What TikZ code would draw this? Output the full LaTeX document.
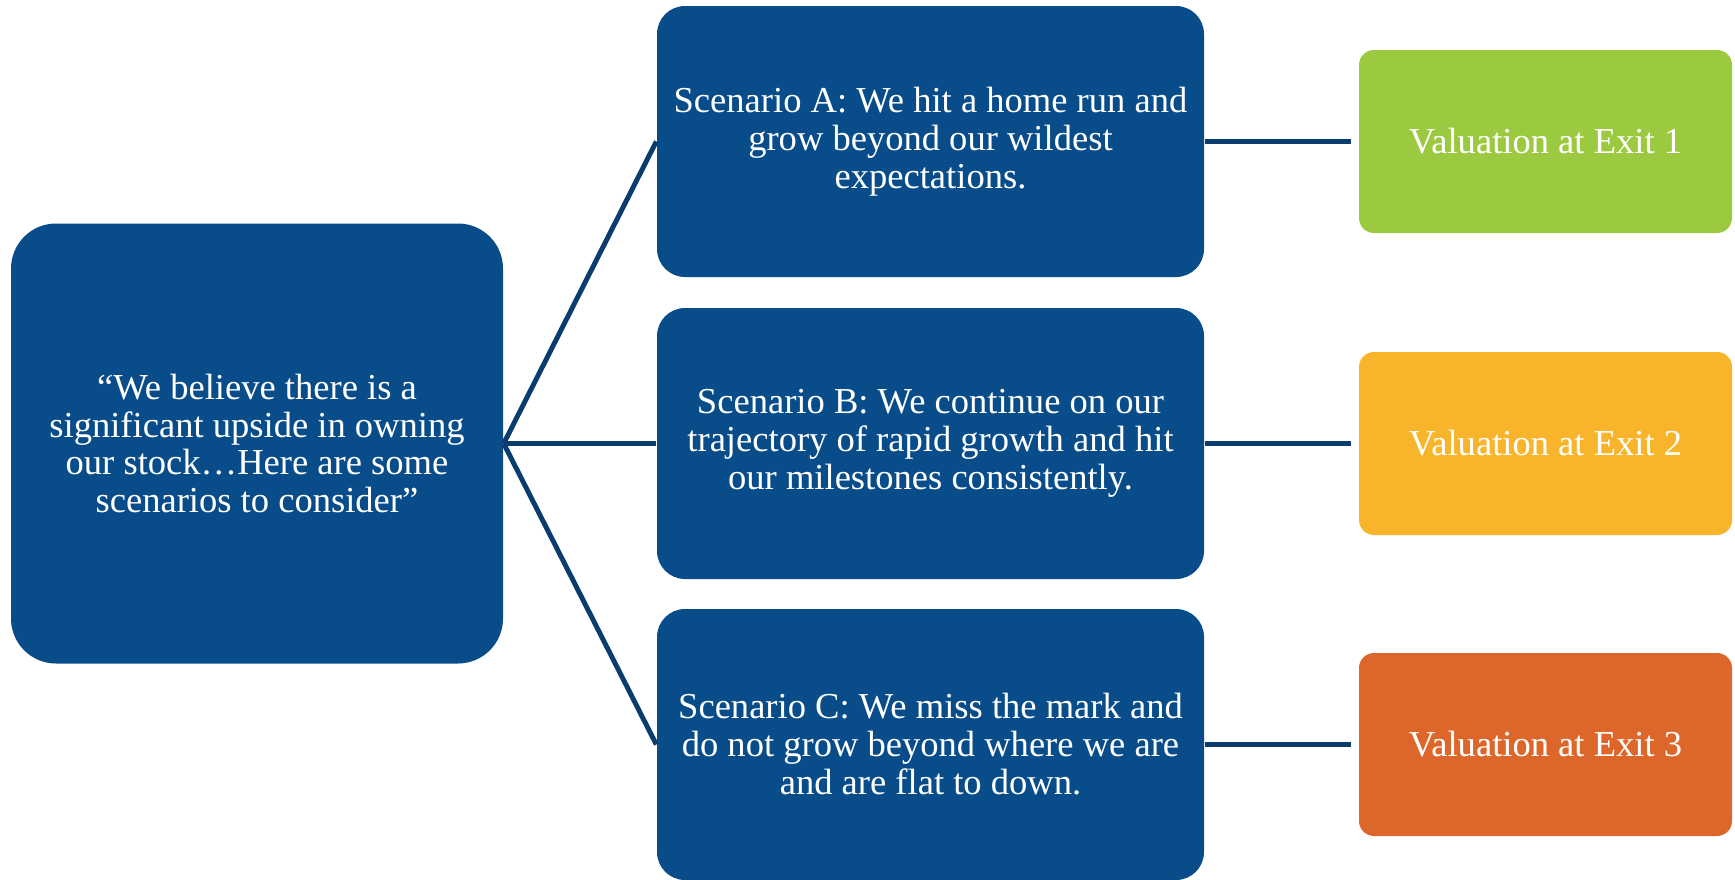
\documentclass[tikz,border=0pt]{standalone}
\usepackage{fontspec}
\setmainfont{Liberation Serif}
\usepackage{tikz}
\usetikzlibrary{positioning}
\definecolor{boxblue}{RGB}{9,76,138}
\definecolor{lineblue}{RGB}{10,61,110}
\definecolor{exitgreen}{RGB}{155,201,63}
\definecolor{exityellow}{RGB}{248,180,43}
\definecolor{exitorange}{RGB}{221,103,42}

\begin{document}
\begin{tikzpicture}[
  claim/.style={rectangle, fill=boxblue, rounded corners=4.5mm, minimum width=49.2mm, minimum height=44mm, inner sep=0pt, text=white, align=center, font=\fontsize{10.4}{10.8}\selectfont},
  scen/.style={rectangle, fill=boxblue, rounded corners=2.8mm, minimum width=54.7mm, minimum height=27.1mm, inner sep=0pt, text=white, align=center, font=\fontsize{10.4}{10.8}\selectfont},
  exitbox/.style={rectangle, rounded corners=1.5mm, minimum width=37.3mm, minimum height=18.3mm, inner sep=0pt, text=white, align=center, font=\fontsize{10.4}{10.8}\selectfont},
  link/.style={lineblue, line width=1.4pt},
]
\useasboundingbox (0,0) rectangle (17.35,8.79);

% Claim
\node[claim] (claim) at (2.57,4.355) {``We believe there is a\\significant upside in owning\\our stock\ldots Here are some\\scenarios to consider''};

% Scenarios
\node[scen] (scA) at (9.305,7.375) {Scenario A: We hit a home run and\\grow beyond our wildest\\expectations.};
\node[scen] (scB) at (9.305,4.355) {Scenario B: We continue on our\\trajectory of rapid growth and hit\\our milestones consistently.};
\node[scen] (scC) at (9.305,1.345) {Scenario C: We miss the mark and\\do not grow beyond where we are\\and are flat to down.};

% Valuations
\node[exitbox, fill=exitgreen] (ex1) at (15.455,7.375) {Valuation at Exit 1};
\node[exitbox, fill=exityellow] (ex2) at (15.455,4.355) {Valuation at Exit 2};
\node[exitbox, fill=exitorange] (ex3) at (15.455,1.345) {Valuation at Exit 3};

% Links
\draw[link] (claim.east) -- (scA.west);
\draw[link] (claim.east) -- (scB.west);
\draw[link] (claim.east) -- (scC.west);
\draw[link, shorten >=0.7mm] (scA.east) -- (ex1.west);
\draw[link, shorten >=0.7mm] (scB.east) -- (ex2.west);
\draw[link, shorten >=0.7mm] (scC.east) -- (ex3.west);

\end{tikzpicture}
\end{document}
